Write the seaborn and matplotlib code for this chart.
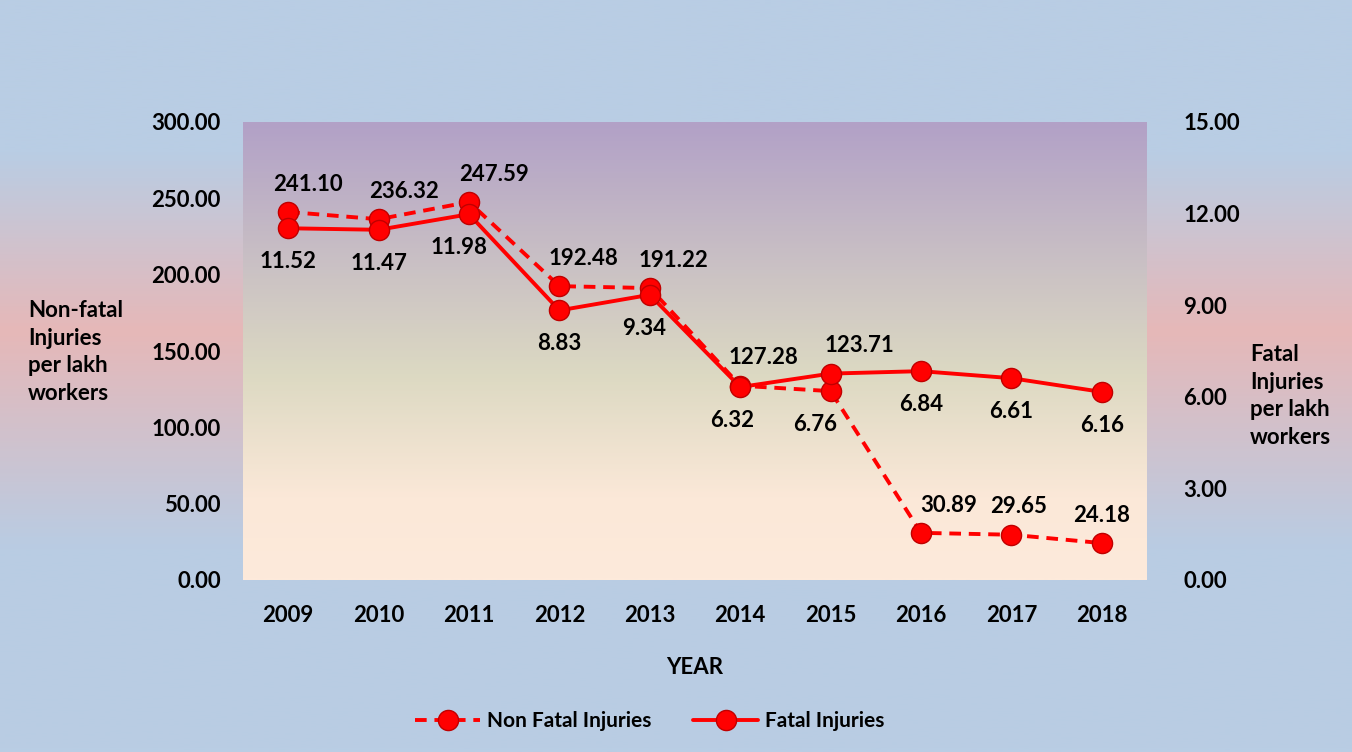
import matplotlib.pyplot as plt
import numpy as np
import pandas as pd
import seaborn as sns
from matplotlib.colors import LinearSegmentedColormap

years = ["2009", "2010", "2011", "2012", "2013", "2014", "2015", "2016", "2017", "2018"]
non_fatal = [241.10, 236.32, 247.59, 192.48, 191.22, 127.28, 123.71, 30.89, 29.65, 24.18]
fatal = [11.52, 11.47, 11.98, 8.83, 9.34, 6.32, 6.76, 6.84, 6.61, 6.16]
left_ticks = [0, 50, 100, 150, 200, 250, 300]
right_ticks = [0, 3, 6, 9, 12, 15]

# horizontal nudges of the data labels (points), as placed in the original
nf_dx = [14, 18, 18, 17, 17, 17, 21, 20, 5, 0]
f_dx = [0, 0, -7, 0, -4, -6, -11, 0, 0, 0]

sns.set_theme(style="white")
plt.rcParams["font.family"] = ["Lato", "DejaVu Sans"]
plt.rcParams["font.weight"] = "bold"
plt.rcParams["text.color"] = "black"

df = pd.DataFrame({"pos": np.arange(len(years)), "year": years,
                   "non_fatal": non_fatal, "fatal": fatal})

fig = plt.figure(figsize=(13.52, 7.52), dpi=100)

# figure background gradient
bg = fig.add_axes([0, 0, 1, 1], zorder=-5)
bg_cmap = LinearSegmentedColormap.from_list(
    "bg", [(0, "#b9cde4"), (0.2, "#b9cde4"), (0.44, "#e6b8b8"),
           (0.73, "#b9cce3"), (1, "#b9cde4")])
bg.imshow(np.linspace(0, 1, 300).reshape(-1, 1), aspect="auto", cmap=bg_cmap,
          extent=[0, 1, 0, 1], origin="upper")
bg.axis("off")

ax = fig.add_axes([243 / 1352, 1 - 580 / 752, 904 / 1352, 458 / 752])
ax.set_facecolor("none")
pa_cmap = LinearSegmentedColormap.from_list(
    "pa", [(0, "#b2a1c7"), (0.55, "#dcd9c2"), (0.82, "#fbe8d8"), (1, "#fdeadb")])
ax.imshow(np.linspace(0, 1, 300).reshape(-1, 1), aspect="auto", cmap=pa_cmap,
          extent=[0, 1, 0, 1], origin="upper", transform=ax.transAxes, zorder=0)

ax2 = ax.twinx()

red = "#ff0000"
common = dict(marker="o", markersize=14.5, markerfacecolor=red,
              markeredgecolor="#c00000", markeredgewidth=1.0,
              color=red, linewidth=2.8)
sns.lineplot(data=df, x="pos", y="non_fatal", ax=ax, label="Non Fatal Injuries",
             linestyle=(0, (3, 2)), zorder=3, legend=False, **common)
sns.lineplot(data=df, x="pos", y="fatal", ax=ax2, label="Fatal Injuries",
             linestyle="-", zorder=3, legend=False, **common)

ax.set_xlim(-0.5, len(years) - 0.5)
ax.set_ylim(0, 300)
ax2.set_ylim(0, 15)
ax.set_xticks(df["pos"])
ax.set_xticklabels(years)
ax.set_yticks(left_ticks)
ax.set_yticklabels([f"{v:.2f}" for v in left_ticks])
ax2.set_yticks(right_ticks)
ax2.set_yticklabels([f"{v:.2f}" for v in right_ticks])

fs = 16
for a in (ax, ax2):
    a.tick_params(axis="both", length=0, labelsize=fs, colors="black")
    for s in a.spines.values():
        s.set_visible(False)
    a.grid(False)
ax.tick_params(axis="y", pad=16)
ax2.tick_params(axis="y", pad=26)
ax.tick_params(axis="x", pad=18)
for lab in ax.get_xticklabels() + ax.get_yticklabels() + ax2.get_yticklabels():
    lab.set_fontweight("bold")

ax.set_xlabel("YEAR", fontsize=fs, fontweight="bold", labelpad=22, color="black")
ax.set_ylabel("")
ax2.set_ylabel("")
fig.text(28 / 1352, 1 - 352 / 752, "Non-fatal\nInjuries\nper lakh\nworkers",
         fontsize=fs, fontweight="bold", ha="left", va="center", linespacing=1.4,
         color="black")
fig.text(1250 / 1352, 1 - 396 / 752, "Fatal\nInjuries\nper lakh\nworkers",
         fontsize=fs, fontweight="bold", ha="left", va="center", linespacing=1.4,
         color="black")

# data labels: label of the upper marker goes above, lower goes below
for i, (nf, f) in enumerate(zip(non_fatal, fatal)):
    nf_frac, f_frac = nf / 300, f / 15
    if abs(nf_frac - f_frac) < 0.1:
        nf_y = max(nf_frac, f_frac) * 300
        f_y = min(nf_frac, f_frac) * 15
    else:
        nf_y, f_y = nf, f
    ax.annotate(f"{nf:.2f}", (i, nf_y), xytext=(nf_dx[i], 20),
                textcoords="offset points", ha="center", va="center",
                fontsize=fs, fontweight="bold", color="black", zorder=5)
    ax2.annotate(f"{f:.2f}", (i, f_y), xytext=(f_dx[i], -24),
                 textcoords="offset points", ha="center", va="center",
                 fontsize=fs, fontweight="bold", color="black", zorder=5)

h1, l1 = ax.get_legend_handles_labels()
h2, l2 = ax2.get_legend_handles_labels()
leg = fig.legend(h1 + h2, l1 + l2, loc="center",
                 bbox_to_anchor=(650 / 1352, 1 - 721 / 752),
                 ncol=2, frameon=False, handlelength=3.1, columnspacing=2.0,
                 handletextpad=0.35, prop={"weight": "bold", "size": 15})
for t in leg.get_texts():
    t.set_color("black")

fig.savefig("out.png", dpi=100)
